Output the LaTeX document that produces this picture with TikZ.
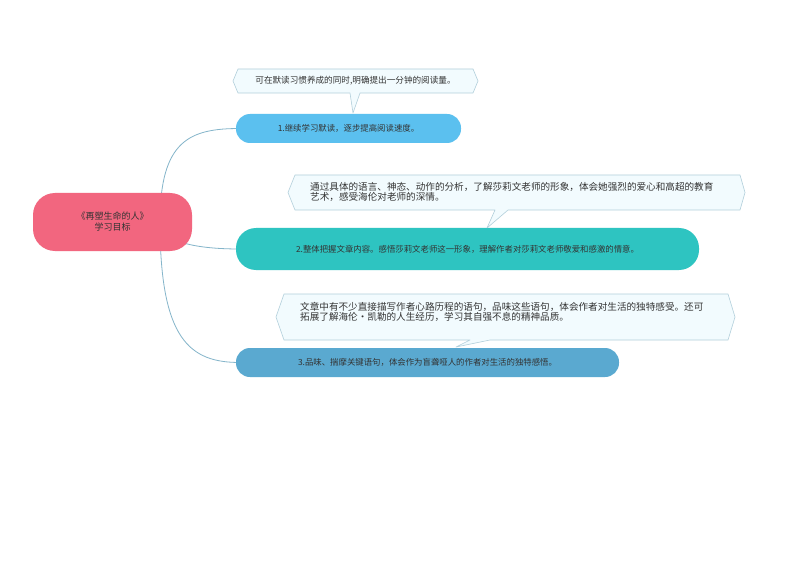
\documentclass[tikz,border=0pt]{standalone}
\usepackage{fontspec}
\setmainfont{Noto Sans CJK SC}
\begin{document}
\begin{tikzpicture}[x=1pt,y=-1pt,
  topic/.style={rounded corners=14pt,inner sep=0pt,font=\fontsize{8.4}{10}\selectfont,text=black!80},
  callout/.style={draw=cyan!40!gray!50,fill=cyan!5,line width=0.6pt,line join=round},
  link/.style={draw=cyan!45!gray!80,line width=0.8pt},
  ctext/.style={font=\fontsize{9.6}{10}\selectfont,align=left,text=black!80,inner sep=0pt}]
\useasboundingbox[fill=white] (0,0) rectangle (794,561);
\definecolor{rootc}{HTML}{F2667F}
\definecolor{c1}{HTML}{5BC0EF}
\definecolor{c2}{HTML}{2EC4C1}
\definecolor{c3}{HTML}{5AA9D0}
% connectors
\coordinate (o) at (160,222);
\coordinate (e1) at (240,128.5);
\coordinate (e2) at (240,249);
\coordinate (e3) at (240,362.5);
\draw[link] (o) .. controls (160,140) and (190,128.5) .. (e1);
\draw[link] (o) .. controls (160,240) and (190,249) .. (e2);
\draw[link] (o) .. controls (160,340) and (190,362.5) .. (e3);
% root
\node[fill=rootc,rounded corners=22pt,minimum width=159pt,minimum height=58pt,font=\fontsize{9}{11}\selectfont,align=center,text=black!80] (root) at (112.5,222) {《再塑生命的人》\\学习目标};
% topics
\node[topic,fill=c1,minimum width=225pt,minimum height=29pt] (n1) at (348.5,128.5) {1.继续学习默读，逐步提高阅读速度。};
\node[topic,fill=c2,minimum width=463pt,minimum height=42pt,rounded corners=20pt] (n2) at (467.5,249) {2.整体把握文章内容。感悟莎莉文老师这一形象，理解作者对莎莉文老师敬爱和感激的情意。};
\node[topic,fill=c3,minimum width=383pt,minimum height=29pt] (n3) at (427.5,362.5) {3.品味、揣摩关键语句，体会作为盲聋哑人的作者对生活的独特感悟。};
% callouts
\draw[callout] (238,69) -- (473,69) -- (478,81) -- (473,93) -- (360,93) -- (353,113) -- (350,93) -- (238,93) -- (233,81) -- cycle;
\node[ctext,font=\fontsize{8.6}{10}\selectfont] (t1) at (355.5,81) {可在默读习惯养成的同时,明确提出一分钟的阅读量。};
\draw[callout] (295,175) -- (740,175) -- (745,192.5) -- (740,210) -- (508,210) -- (487,228) -- (495,210) -- (295,210) -- (288,192.5) -- cycle;
\node[ctext,anchor=north west] (t2) at (310,182) {通过具体的语言、神态、动作的分析，了解莎莉文老师的形象，体会她强烈的爱心和高超的教育\\艺术，感受海伦对老师的深情。};
\draw[callout] (284,294) -- (728,294) -- (735,317) -- (728,340) -- (490,340) -- (456,347) -- (470,340) -- (284,340) -- (276,317) -- cycle;
\node[ctext,anchor=north west] (t3) at (300,302) {文章中有不少直接描写作者心路历程的语句，品味这些语句，体会作者对生活的独特感受。还可\\拓展了解海伦·凯勒的人生经历，学习其自强不息的精神品质。};
\end{tikzpicture}
\end{document}
